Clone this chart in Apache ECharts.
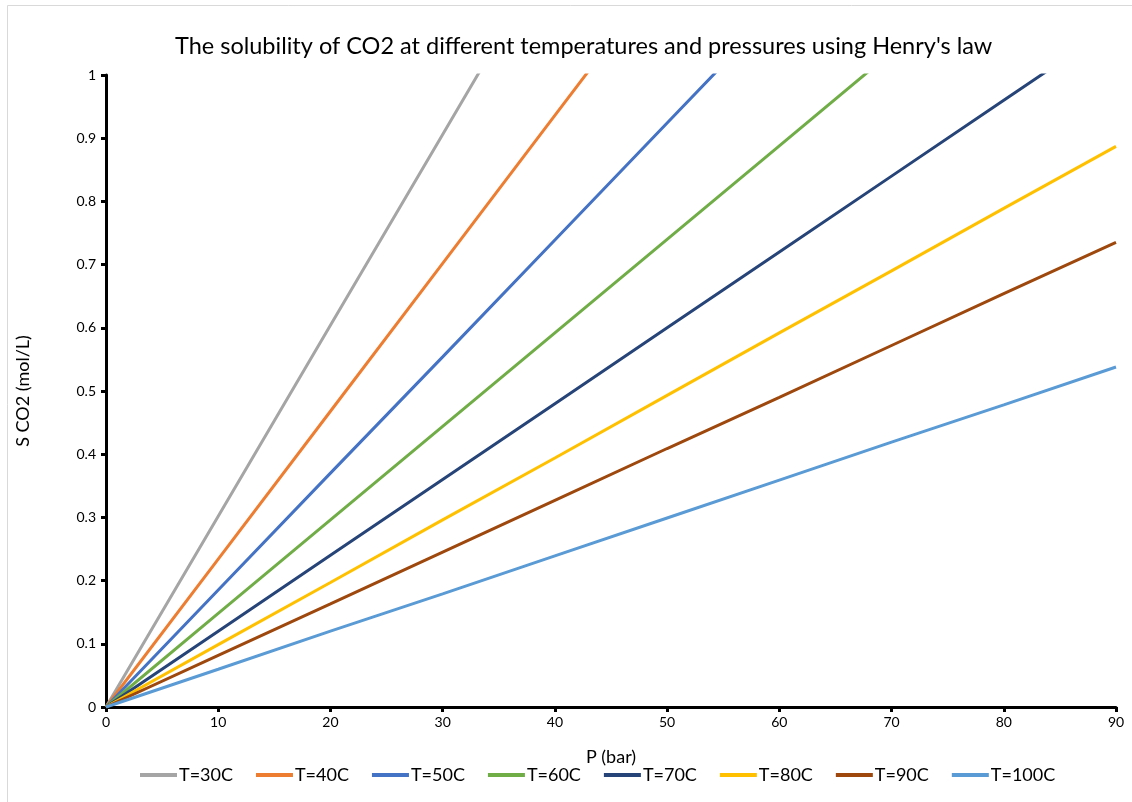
<!DOCTYPE html>
<html>
<head>
<meta charset="utf-8">
<script src="https://cdn.jsdelivr.net/npm/echarts@6/dist/echarts.min.js"></script>
<style>
  html, body { margin: 0; padding: 0; background: #fff; }
  #chart { width: 1132px; height: 802px; }
</style>
</head>
<body>
<div id="chart"></div>
<script>
// Pressure grid (bar)
const pressures = [0, 10, 20, 30, 40, 50, 60, 70, 80, 90];

// CO2 solubility (mol/L) at each pressure; null past the top of the axis
const s30  = [0, 0.302, 0.604, 0.906, 1.208, null, null, null, null, null];
const s40  = [0, 0.234, 0.468, 0.702, 0.936, 1.170, null, null, null, null];
const s50  = [0, 0.185, 0.370, 0.554, 0.739, 0.924, 1.109, null, null, null];
const s60  = [0, 0.148, 0.296, 0.444, 0.592, 0.740, 0.888, 1.036, null, null];
const s70  = [0, 0.120, 0.240, 0.360, 0.480, 0.600, 0.720, 0.840, 0.960, 1.080];
const s80  = [0, 0.0986, 0.197, 0.296, 0.394, 0.493, 0.592, 0.690, 0.789, 0.887];
const s90  = [0, 0.0817, 0.163, 0.245, 0.327, 0.409, 0.490, 0.572, 0.654, 0.735];
const s100 = [0, 0.0598, 0.120, 0.179, 0.239, 0.299, 0.359, 0.419, 0.478, 0.538];

const seriesNames = ['T=30C', 'T=40C', 'T=50C', 'T=60C', 'T=70C', 'T=80C', 'T=90C', 'T=100C'];
const seriesValues = [s30, s40, s50, s60, s70, s80, s90, s100];
const seriesColors = ['#A5A5A5', '#ED7D31', '#4472C4', '#70AD47', '#264478', '#FFC000', '#9E480E', '#5B9BD5'];

const fontFamily = 'Lato, "Open Sans", sans-serif';

const chart = echarts.init(document.getElementById('chart'), null, { renderer: 'canvas' });

const series = seriesNames.map((name, i) => ({
  name: name,
  type: 'line',
  showSymbol: false,
  symbol: 'none',
  clip: true,
  lineStyle: { width: 3, color: seriesColors[i] },
  itemStyle: { color: seriesColors[i] },
  data: pressures.map((p, j) => [p, seriesValues[i][j]]).filter(d => d[1] !== null),
  z: 2 + i
}));

const axisLineStyle = { color: '#000', width: 3 };

chart.setOption({
  animation: false,
  backgroundColor: '#fff',
  title: {
    text: "The solubility of CO2 at different temperatures and pressures using Henry's law",
    left: 170,
    top: 29,
    textStyle: { fontFamily: fontFamily, fontSize: 23.5, fontWeight: 'normal', color: '#000' }
  },
  graphic: [{
    type: 'rect',
    shape: { x: 7.5, y: 5.5, width: 1200, height: 900 },
    style: { fill: 'none', stroke: '#d9d9d9', lineWidth: 1 },
    silent: true
  }],
  legend: {
    data: seriesNames,
    bottom: 13,
    left: 135,
    icon: 'rect',
    itemWidth: 37,
    itemHeight: 4,
    itemGap: 23,
    textStyle: { fontFamily: fontFamily, fontSize: 18, color: '#000', padding: [0, 0, 0, -3] }
  },
  grid: { left: 106, right: 16, top: 75, bottom: 95, containLabel: false },
  xAxis: {
    type: 'value',
    min: 0,
    max: 90,
    interval: 10,
    name: 'P (bar)',
    nameLocation: 'middle',
    nameGap: 41,
    nameTextStyle: { fontFamily: fontFamily, fontSize: 18, color: '#000' },
    axisLine: { show: true, onZero: false, lineStyle: axisLineStyle },
    axisTick: { show: true, inside: false, length: 5, lineStyle: axisLineStyle },
    axisLabel: { fontFamily: fontFamily, fontSize: 14, color: '#000', margin: 8 },
    splitLine: { show: false }
  },
  yAxis: {
    type: 'value',
    min: 0,
    max: 1,
    interval: 0.1,
    name: 'S CO2 (mol/L)',
    nameLocation: 'middle',
    nameGap: 74,
    nameRotate: 90,
    nameTextStyle: { fontFamily: fontFamily, fontSize: 18, color: '#000' },
    axisLine: { show: true, onZero: false, lineStyle: axisLineStyle },
    axisTick: { show: true, inside: false, length: 5, lineStyle: axisLineStyle },
    axisLabel: {
      fontFamily: fontFamily, fontSize: 14, color: '#000', margin: 10,
      formatter: v => String(Math.round(v * 10) / 10)
    },
    splitLine: { show: false }
  },
  series: series
});
</script>
</body>
</html>
